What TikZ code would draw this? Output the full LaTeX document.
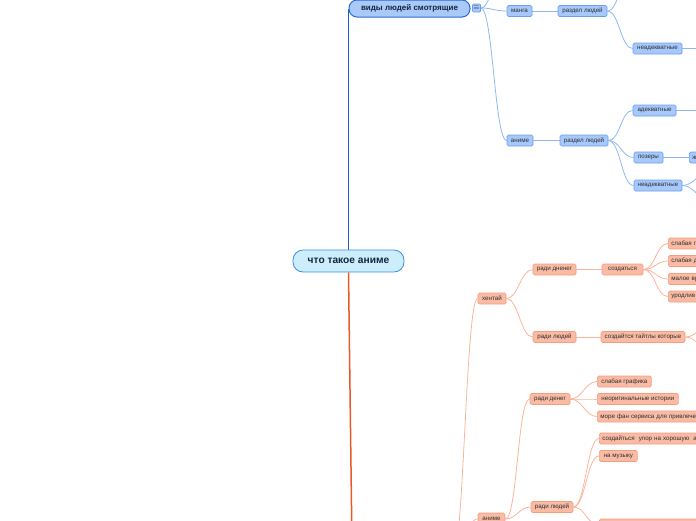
\documentclass[tikz,border=0pt]{standalone}
\usepackage{fontspec}
\setmainfont{Liberation Sans}
\usetikzlibrary{positioning,backgrounds}
\definecolor{rootfill}{HTML}{CCEEFC}
\definecolor{rootdraw}{HTML}{3D8ED8}
\definecolor{viewfill}{HTML}{A9C9F8}
\definecolor{viewdraw}{HTML}{2C6BD3}
\definecolor{bluefill}{HTML}{A6C8FA}
\definecolor{bluedraw}{HTML}{6A9FEE}
\definecolor{blueline}{HTML}{8FB8F2}
\definecolor{bluemain}{HTML}{1C5ED2}
\definecolor{orangefill}{HTML}{F9BBA4}
\definecolor{orangedraw}{HTML}{F69D80}
\definecolor{orangeline}{HTML}{F9B59C}
\definecolor{orangemain}{HTML}{E8582B}
\definecolor{inktext}{HTML}{2E2E2E}
\definecolor{navytext}{HTML}{14253F}

\begin{document}
\begin{tikzpicture}[
  x=1pt, y=-1pt,
  every node/.style={font=\fontsize{6.2}{7}\selectfont, text=inktext},
  bnode/.style={rectangle, draw=bluedraw, fill=bluefill, rounded corners=1.5pt,
    line width=0.7pt, minimum height=11pt, inner xsep=3pt, inner ysep=0pt},
  onode/.style={bnode, draw=orangedraw, fill=orangefill},
  cutnode/.style={anchor=west, align=left, text width=#1},
  bline/.style={draw=blueline, line width=0.8pt},
  oline/.style={draw=orangeline, line width=0.8pt},
  branch/.style={to path={.. controls +(12,0) and +(-12,0) .. (\tikztotarget)}},
]
  \useasboundingbox (0,0) rectangle (696,520);
  \clip (0,0) rectangle (696,520);

  %% Root (centre left)
  \node[rectangle, rounded corners=10pt, draw=rootdraw, fill=rootfill, line width=0.8pt,
    minimum height=22pt, minimum width=111pt, text=navytext,
    font=\bfseries\fontsize{10.2}{12}\selectfont] (root) at (348.5,261) {что такое аниме};

  %% Top branch: viewers
  \node[rectangle, rounded corners=8pt, draw=viewdraw, fill=viewfill, line width=1pt,
    minimum height=17pt, minimum width=121pt, text=navytext,
    font=\bfseries\fontsize{8}{9}\selectfont] (viewers) at (409.5,8.5) {виды людей смотрящие};
  \node[bnode, minimum width=8pt, minimum height=8pt, inner xsep=0pt, rounded corners=1pt,
    font=\fontsize{7}{7}\selectfont] (notes) at (476.5,8) {$\equiv$};

  %% manga
  \node[bnode, minimum width=25pt] (manga) at (519.5,11) {манга};
  \node[bnode, minimum width=49pt] (mangappl) at (582.5,11) {раздел людей};
  \node[bnode, minimum width=49pt] (mangabad) at (657.5,48.5) {неадекватные};
  \coordinate (mangaup) at (506,-40);
  \coordinate (mangapplup) at (633,-30);
  \coordinate (mangabadout) at (700,48.5);

  %% anime (viewers)
  \node[bnode, minimum width=26pt] (anime) at (520,140.5) {аниме};
  \node[bnode, minimum width=48pt] (animeppl) at (584,140.5) {раздел людей};
  \node[bnode, minimum width=43pt] (animegood) at (654.5,110.5) {адекватные};
  \node[bnode, minimum width=29pt] (animepose) at (648.5,157.5) {позеры};
  \node[bnode, cutnode=24pt] (animeposekid) at (689,157.5) {ж};
  \node[bnode, minimum width=48pt] (animebad) at (658,185.5) {неадекватные};
  \coordinate (animegoodout) at (700,110.5);
  \coordinate (animebadup) at (712,170);
  \coordinate (animebaddown) at (712,202);

  %% Bottom branch: hentai
  \node[onode, minimum width=28pt] (hentai) at (492,298.5) {хентай};
  \node[onode, minimum width=43pt] (hmoney) at (554.5,269.5) {ради дненег};
  \node[onode, minimum width=41pt] (hmake) at (622.5,269.5) {создаться};
  \node[onode, cutnode=40pt] (hweak) at (668,243.5) {слабая г};
  \node[onode, cutnode=40pt] (hweakb) at (668,261) {слабая д};
  \node[onode, cutnode=40pt] (hshort) at (668,279) {малое вр};
  \node[onode, cutnode=40pt] (hugly) at (668,296.5) {уродлив};
  \node[onode, minimum width=43pt] (hppl) at (554.5,337) {ради людей};
  \node[onode, minimum width=84pt] (htitles) at (643,337) {создайтся тайтлы которые};
  \coordinate (htitlesup) at (712,324);
  \coordinate (htitlesdown) at (712,352);

  %% Bottom branch: anime
  \node[onode, minimum width=27pt, minimum height=12pt] (banime) at (491.5,519) {аниме};
  \node[onode, minimum width=40pt] (bmoney) at (550,399) {ради денег};
  \node[onode, anchor=west, minimum width=54pt] (bgraph) at (597,381.5) {слабая графика};
  \node[onode, anchor=west, minimum width=81pt] (bstory) at (597,399) {неоригинальные истории};
  \node[onode, cutnode=110pt] (bfan) at (597,416.5) {море фан сервиса для привлечения};
  \node[onode, minimum width=42pt] (bppl) at (552,507) {ради людей};
  \node[onode, cutnode=110pt] (bfocus) at (599,438.5) {создайться\ \ упор на хорошую\ \ а};
  \node[onode, anchor=west, minimum width=38pt] (bmusic) at (599,456) {на музыку};
  \node[onode, anchor=west, minimum width=100pt, minimum height=12pt] (bnext) at (599,525) {};
  \coordinate (lowhub) at (452,560);
  \coordinate (mainlow) at (352,545);

  %% Connectors
  \begin{scope}[on background layer]
    \draw[bluemain, line width=1.5pt] (root.north) |- (viewers.west);
    \draw[orangemain, line width=1.5pt] (root.south) -- (mainlow);

    \draw[bline] (notes.east) to[branch] (mangaup);
    \draw[bline] (notes.east) to[branch] (manga.west);
    \draw[bline] (notes.east) to[branch] (anime.west);
    \draw[bline] (manga) -- (mangappl);
    \draw[bline] (mangappl.east) to[branch] (mangapplup);
    \draw[bline] (mangappl.east) to[branch] (mangabad.west);
    \draw[bline] (mangabad) -- (mangabadout);
    \draw[bline] (anime) -- (animeppl);
    \draw[bline] (animeppl.east) to[branch] (animegood.west);
    \draw[bline] (animeppl.east) to[branch] (animepose.west);
    \draw[bline] (animeppl.east) to[branch] (animebad.west);
    \draw[bline] (animegood) -- (animegoodout);
    \draw[bline] (animepose) -- (animeposekid);
    \draw[bline] (animebad.east) to[branch] (animebadup);
    \draw[bline] (animebad.east) to[branch] (animebaddown);

    \draw[oline] (lowhub) to[branch] (hentai.west);
    \draw[oline] (lowhub) to[branch] (banime.west);
    \draw[oline] (hentai.east) to[branch] (hmoney.west);
    \draw[oline] (hentai.east) to[branch] (hppl.west);
    \draw[oline] (hmoney) -- (hmake);
    \foreach \kid in {hweak,hweakb,hshort,hugly}
      \draw[oline] (hmake.east) to[branch] (\kid.west);
    \draw[oline] (hppl) -- (htitles);
    \draw[oline] (htitles.east) to[branch] (htitlesup);
    \draw[oline] (htitles.east) to[branch] (htitlesdown);
    \draw[oline] (banime.east) to[branch] (bmoney.west);
    \draw[oline] (banime.east) to[branch] (bppl.west);
    \foreach \kid in {bgraph,bstory,bfan}
      \draw[oline] (bmoney.east) to[branch] (\kid.west);
    \foreach \kid in {bfocus,bmusic,bnext}
      \draw[oline] (bppl.east) to[branch] (\kid.west);
  \end{scope}
\end{tikzpicture}
\end{document}
